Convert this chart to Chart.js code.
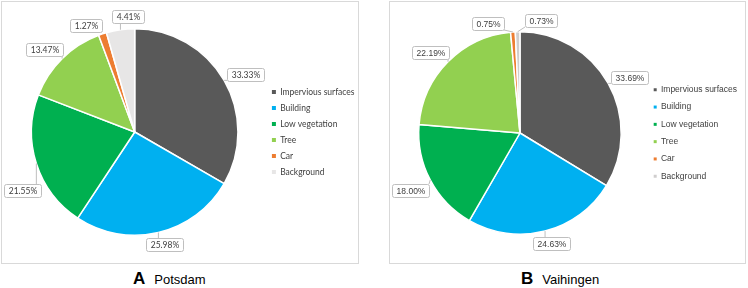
<!DOCTYPE html>
<html>
<head>
<meta charset="utf-8">
<script src="https://cdn.jsdelivr.net/npm/chart.js@4.4.1/dist/chart.umd.min.js"></script>
<style>
body { margin: 0; width: 748px; height: 288px; background: #fff; position: relative; overflow: hidden; font-family: "Liberation Sans", Arial, sans-serif; }
.panel { position: absolute; top: 1px; height: 263px; border: 1px solid #d9d9d9; box-sizing: border-box; }
.panel canvas { position: absolute; left: 0; top: 0; }
.cap { position: absolute; top: 269px; font-size: 13px; color: #000; white-space: nowrap; line-height: 20px; }
.cap b { font-size: 17px; margin-right: 9px; }
</style>
</head>
<body>
<div class="panel" style="left:1px;width:358px"><canvas id="potsdam" width="356" height="261"></canvas></div>
<div class="panel" style="left:389px;width:357px"><canvas id="vaihingen" width="355" height="261"></canvas></div>
<div class="cap" style="left:133px"><b>A</b>Potsdam</div>
<div class="cap" style="left:521px"><b>B</b>Vaihingen</div>
<script>
const classes = ['Impervious surfaces', 'Building', 'Low vegetation', 'Tree', 'Car', 'Background'];
const potsdamShare = [33.33, 25.98, 21.55, 13.47, 1.27, 4.41];
const vaihingenShare = [33.69, 24.63, 18.00, 22.19, 0.75, 0.73];
const potsdamColors = ['#595959', '#00b0f0', '#00b050', '#92d050', '#ed7d31', '#e7e6e6'];
const vaihingenColors = ['#595959', '#00b0f0', '#00b050', '#92d050', '#ed7d31', '#d0cece'];

// Excel style callout boxes around the pie
const calloutPlugin = {
    id: 'callouts',
    afterDatasetsDraw(chart, args, opts) {
        const ctx = chart.ctx;
        const arcs = chart.getDatasetMeta(0).data;
        const values = chart.data.datasets[0].data;
        const minSep = opts.minSep * Math.PI / 180;
        const angles = arcs.map(a => (a.startAngle + a.endAngle) / 2);
        for (let i = 1; i < angles.length; i++) {
            const gap = angles[i] - angles[i - 1];
            if (gap < minSep) {
                const push = (minSep - gap) / 2;
                angles[i - 1] -= push;
                angles[i] += push;
            }
        }
        ctx.save();
        ctx.font = opts.font;
        arcs.forEach((arc, i) => {
            const mid = (arc.startAngle + arc.endAngle) / 2;
            const r = arc.outerRadius;
            const dx = Math.cos(angles[i]), dy = Math.sin(angles[i]);
            const text = values[i].toFixed(2) + '%';
            const w = Math.round(ctx.measureText(text).width + 8), h = 13;
            let cx = arc.x + dx * (r + opts.gap) + dx * w / 2;
            let cy = arc.y + dy * (r + opts.gap) + dy * h / 2;
            // keep the box inside the canvas; slide it down when clamped
            const minX = 2 + w / 2;
            if (cx < minX) {
                cy += (minX - cx) * 2.5;
                cx = minX;
            }
            const bx = Math.round(cx - w / 2), by = Math.round(cy - h / 2);
            const ex = arc.x + Math.cos(mid) * r, ey = arc.y + Math.sin(mid) * r;
            const px = Math.max(bx, Math.min(ex, bx + w));
            const py = Math.max(by, Math.min(ey, by + h));
            ctx.strokeStyle = opts.border;
            ctx.lineWidth = 1;
            if (Math.hypot(px - ex, py - ey) > 2) {
                ctx.beginPath();
                ctx.moveTo(ex, ey);
                ctx.lineTo(px, py);
                ctx.stroke();
            }
            ctx.beginPath();
            ctx.roundRect(bx + 0.5, by + 0.5, w, h, 2);
            ctx.fillStyle = '#fff';
            ctx.fill();
            ctx.stroke();
            ctx.fillStyle = opts.color;
            ctx.textAlign = 'center';
            ctx.textBaseline = 'middle';
            ctx.fillText(text, bx + 0.5 + w / 2, by + 1 + h / 2);
        });
        ctx.restore();
    }
};

function makePie(id, values, colors, family, padding, legendPad, boxSize, minSep) {
    new Chart(document.getElementById(id), {
        type: 'pie',
        data: {
            labels: classes,
            datasets: [{
                data: values,
                backgroundColor: colors,
                borderColor: '#fff',
                borderWidth: 1.5
            }]
        },
        options: {
            responsive: false,
            animation: false,
            layout: { padding: padding },
            plugins: {
                legend: {
                    position: 'right',
                    labels: {
                        boxWidth: boxSize,
                        boxHeight: boxSize,
                        padding: legendPad,
                        color: '#404040',
                        font: { family: family, size: 8.5 },
                        generateLabels(chart) {
                            return Chart.overrides.pie.plugins.legend.labels.generateLabels(chart)
                                .map(l => Object.assign(l, { lineWidth: 0 }));
                        }
                    }
                },
                tooltip: { enabled: false },
                callouts: {
                    font: '8.5px ' + family,
                    color: '#404040',
                    border: '#bfbfbf',
                    gap: 6,
                    minSep: minSep
                }
            }
        },
        plugins: [calloutPlugin]
    });
}

makePie('potsdam', potsdamShare, potsdamColors, 'Lato', { top: 26, bottom: 27, left: 3, right: -6.5 }, 7.5, 4, 20);
makePie('vaihingen', vaihingenShare, vaihingenColors, '"Liberation Sans"', { top: 29, bottom: 28, left: 5, right: -2 }, 8.8, 3, 25);
</script>
</body>
</html>
